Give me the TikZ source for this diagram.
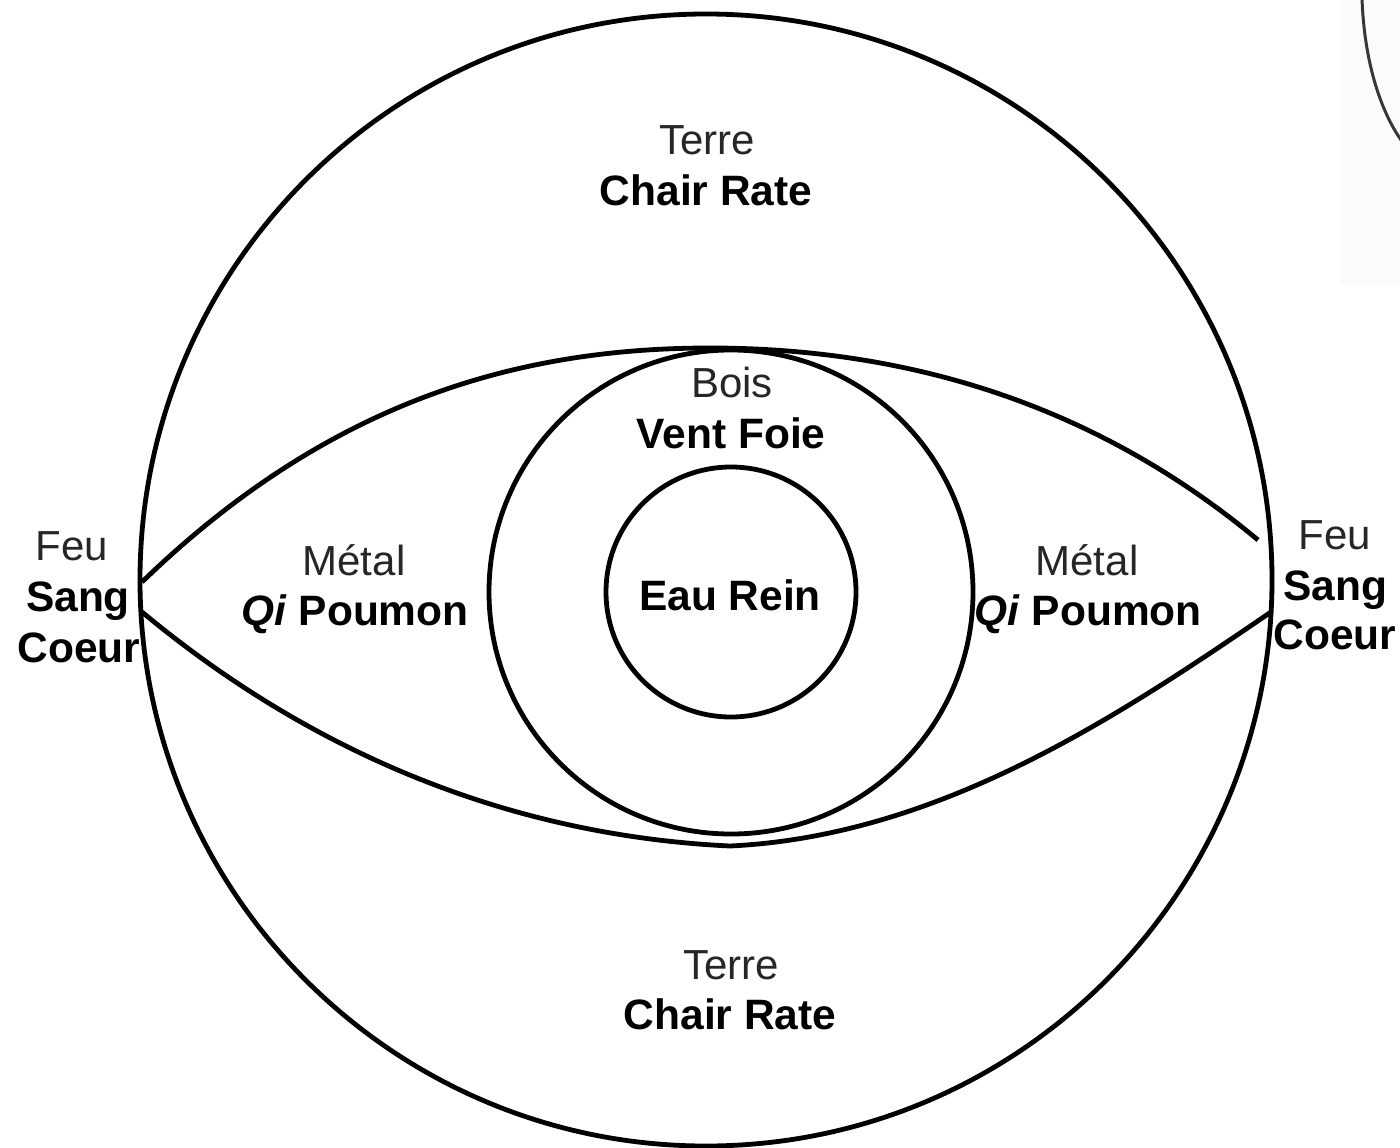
\documentclass[tikz,border=0pt]{standalone}
\usepackage{fontspec}
\setmainfont{Liberation Sans}
\begin{document}
\begin{tikzpicture}[x=1pt,y=-1pt,
  ring/.style={draw=black,line width=4.8pt},
  lighttxt/.style={font=\fontsize{42}{48}\selectfont,inner sep=0pt,anchor=base,text=black!85},
  boldtxt/.style={font=\fontsize{42.5}{48}\selectfont\bfseries,inner sep=0pt,anchor=base}]
\useasboundingbox (0,0) rectangle (1400,1148);
\fill[white] (0,0) rectangle (1400,1148);
% scanned fragment top right
\fill[color={rgb,255:red,252;green,251;blue,249}] (1340,0) rectangle (1400,285);
\draw[line width=3pt,color={rgb,255:red,55;green,55;blue,55}] (1362,-2) .. controls (1364,60) and (1380,110) .. (1401,140);
% circles
\draw[ring] (706,580) circle[radius=566];
\draw[ring] (731,592) circle[radius=242];
\draw[ring] (731,592) circle[radius=125];
% lens
\coordinate (lt) at (142,582);
\coordinate (lb) at (142,612);
\coordinate (top) at (710,348);
\coordinate (bot) at (730,846);
\coordinate (rt) at (1258,540);
\coordinate (rb) at (1271,612);
\draw[ring] (lt) .. controls (330,400) and (520,348) .. (top) .. controls (900,348) and (1090,400) .. (rt);
\draw[ring] (lb) .. controls (320,760) and (520,836) .. (bot) .. controls (940,836) and (1120,715) .. (rb);
% texts
\node[lighttxt] (t1) at (707,154) {Terre};
\node[boldtxt] (t2) at (706,205) {Chair Rate};
\node[lighttxt] (b1) at (731,979) {Terre};
\node[boldtxt] (b2) at (730,1029) {Chair Rate};
\node[lighttxt] (w1) at (732,397) {Bois};
\node[boldtxt] (w2) at (731,448) {Vent Foie};
\node[boldtxt] (e1) at (730,610) {Eau Rein};
\node[lighttxt] (m1) at (354,575) {Métal};
\node[boldtxt] (m2) at (355,625) {\textit{Qi} Poumon};
\node[lighttxt] (n1) at (1087,575) {Métal};
\node[boldtxt] (n2) at (1088,625) {\textit{Qi} Poumon};
\node[lighttxt] (f1) at (72,560) {Feu};
\node[boldtxt] (f2) at (78,611) {Sang};
\node[boldtxt] (f3) at (79,662) {Coeur};
\node[lighttxt] (g1) at (1335,549) {Feu};
\node[boldtxt] (g2) at (1335,600) {Sang};
\node[boldtxt] (g3) at (1335,649) {Coeur};
\end{tikzpicture}
\end{document}
